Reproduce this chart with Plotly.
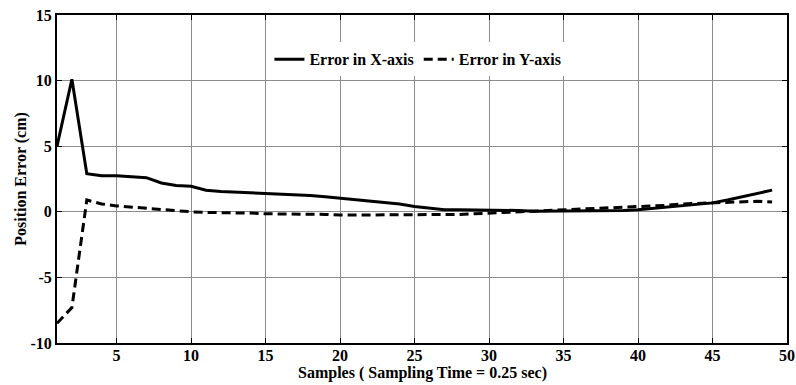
import plotly.graph_objects as go

samples = list(range(1, 50))
err_x = [5.0, 10.1, 2.9, 2.75, 2.75, 2.65, 2.6, 2.2, 2.0, 1.95,
         1.65, 1.55, 1.5, 1.5, 1.45, 1.4, 1.3, 1.25, 1.15, 1.05,
         0.95, 0.85, 0.75, 0.6, 0.4, 0.25, 0.15, 0.15, 0.15, 0.1,
         0.15, 0.1, 0.05, 0.05, 0.05, 0.05, 0.05, 0.1, 0.1, 0.15,
         0.25, 0.35, 0.45, 0.55, 0.68, 0.9, 1.15, 1.4, 1.65]
err_y = [-8.5, -7.3, 0.9, 0.6, 0.45, 0.35, 0.25, 0.2, 0.1, 0.0,
         -0.05, -0.05, -0.05, -0.1, -0.15, -0.15, -0.2, -0.2, -0.2, -0.25,
         -0.25, -0.25, -0.25, -0.25, -0.25, -0.25, -0.25, -0.2, -0.15, -0.1,
         -0.05, 0.0, 0.0, 0.05, 0.1, 0.15, 0.2, 0.25, 0.3, 0.4,
         0.45, 0.5, 0.6, 0.65, 0.7, 0.75, 0.75, 0.8, 0.75]

x_ticks = [5, 10, 15, 20, 25, 30, 35, 40, 45, 50]
y_ticks = [-10, -5, 0, 5, 10, 15]

font_family = "Liberation Serif"

fig = go.Figure()
fig.add_trace(go.Scatter(x=samples, y=err_x, mode="lines", name="<b>Error in X-axis</b>",
                         line=dict(color="black", width=3)))
fig.add_trace(go.Scatter(x=samples, y=err_y, mode="lines", name="<b>Error in Y-axis</b>",
                         line=dict(color="black", width=3, dash="9px,5px")))

axis_common = dict(
    showgrid=True, gridcolor="#8c8c8c", gridwidth=1,
    showline=True, linecolor="black", linewidth=2, mirror="ticks",
    ticks="inside", ticklen=5, tickcolor="black",
    zeroline=False, automargin=False,
    tickfont=dict(family=font_family, size=16, color="black", weight="bold"),
)

fig.update_xaxes(range=[1, 50], tickvals=x_ticks,
                 ticktext=[f"<b>{v}</b>" for v in x_ticks],
                 ticklabelstandoff=-3,
                 **axis_common)
fig.update_yaxes(range=[-10, 15], tickvals=y_ticks,
                 ticktext=[f"<b>{v}</b>" for v in y_ticks],
                 title=dict(text="<b>Position Error (cm)</b>",
                            font=dict(family=font_family, size=16, color="black"),
                            standoff=0),
                 **axis_common)

# x-axis title sits tight under the tick labels
fig.add_annotation(text="<b>Samples ( Sampling Time = 0.25 sec)</b>",
                   xref="paper", yref="paper", x=0.5, y=0,
                   xanchor="center", yanchor="middle", yshift=-30,
                   showarrow=False,
                   font=dict(family=font_family, size=16, color="black"))

fig.update_layout(
    width=796, height=385,
    margin=dict(l=57, r=9, t=15, b=42),
    paper_bgcolor="white", plot_bgcolor="white",
    showlegend=True,
    legend=dict(orientation="h", x=0.291, y=0.865, xanchor="left", yanchor="middle",
                bgcolor="white", borderwidth=0,
                font=dict(family=font_family, size=16, color="black"),
                itemwidth=30, tracegroupgap=0),
)

fig.write_html("out.html")
